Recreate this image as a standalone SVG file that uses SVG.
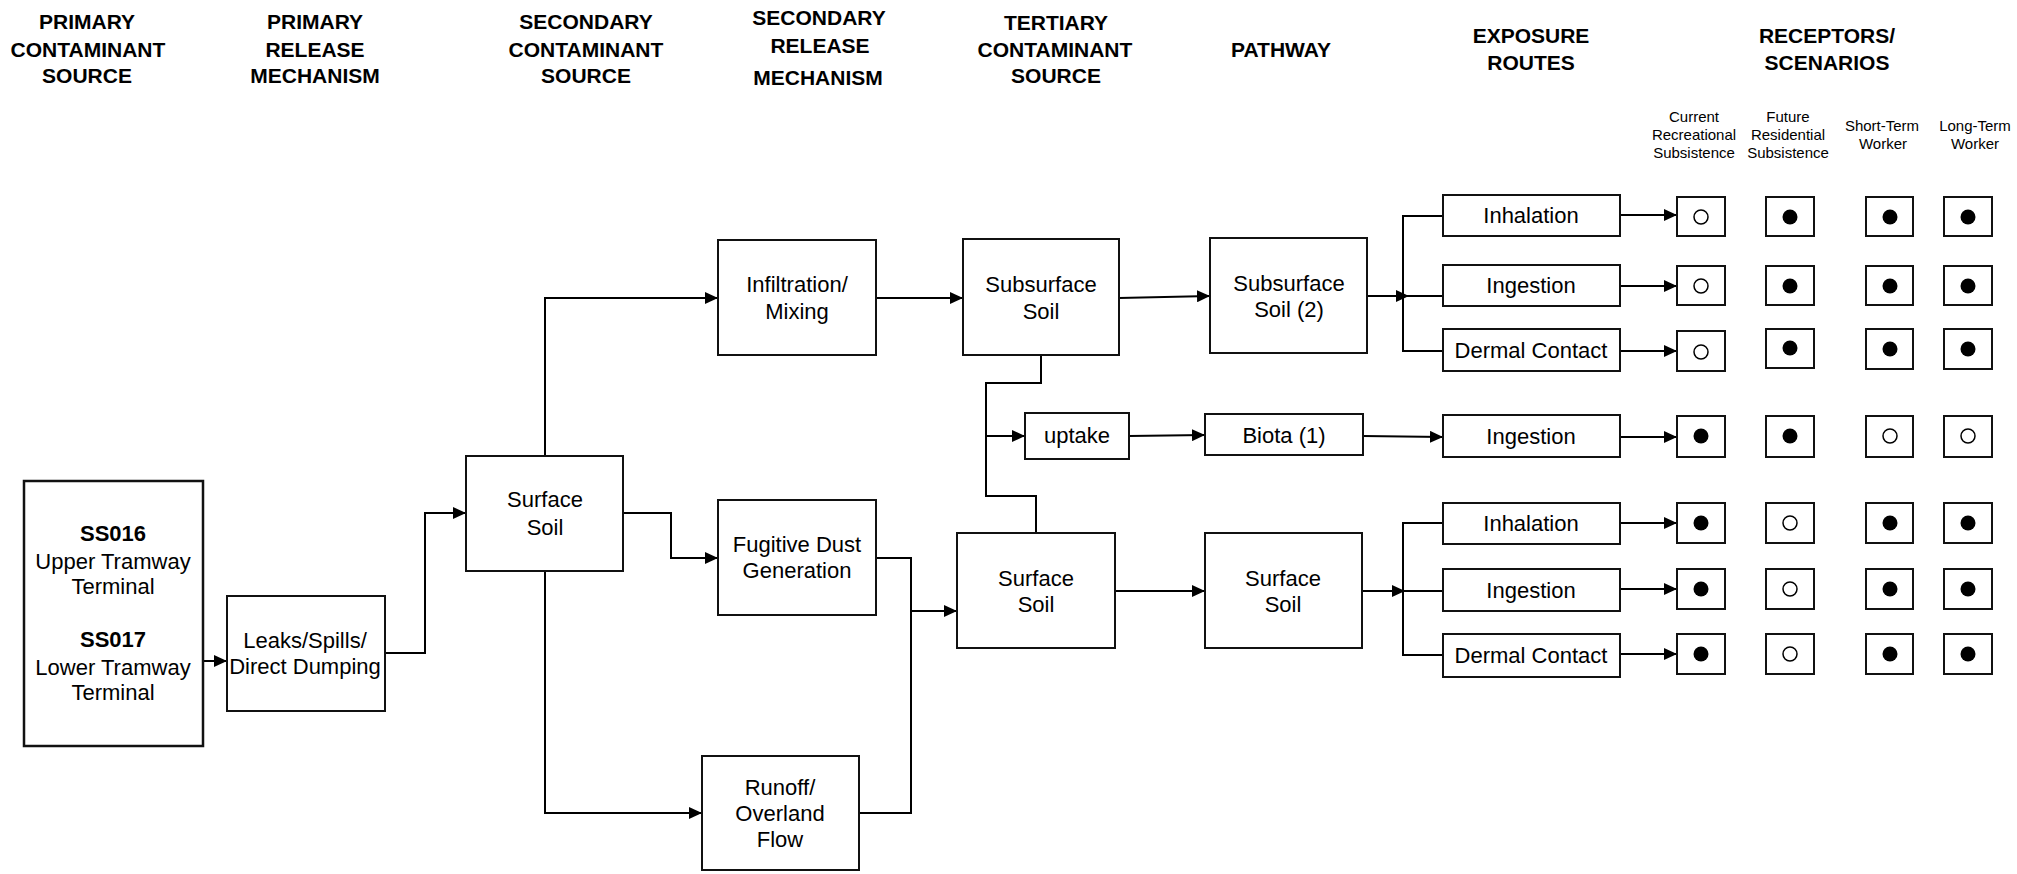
<svg xmlns="http://www.w3.org/2000/svg" width="2017" height="874" viewBox="0 0 2017 874">
<defs>
<style>
.hd{font-family:"Liberation Sans",Arial,sans-serif;font-size:21px;font-weight:bold;text-anchor:middle;fill:#000}
.sm{font-family:"Liberation Sans",Arial,sans-serif;font-size:15px;text-anchor:middle;fill:#000}
.nt{font-family:"Liberation Sans",Arial,sans-serif;font-size:22px;text-anchor:middle;fill:#000}
.b{font-weight:bold}
.box{fill:#fff;stroke:#111;stroke-width:2}
.rb{fill:#fff;stroke:#111;stroke-width:2}
.ln{fill:none;stroke:#000;stroke-width:2}
.ar{fill:none;stroke:#000;stroke-width:2;marker-end:url(#ah)}
.f{fill:#000}
.o{fill:#fff;stroke:#000;stroke-width:1.5}
</style>
<marker id="ah" markerUnits="userSpaceOnUse" markerWidth="14" markerHeight="12" refX="13" refY="6" orient="auto">
<path d="M0,0 L13,6 L0,12 z" fill="#000"/>
</marker>
</defs>
<rect width="2017" height="874" fill="#fff"/>

<g id="headers">
<text class="hd"><tspan x="87" y="29">PRIMARY</tspan><tspan x="88" y="57">CONTAMINANT</tspan><tspan x="87" y="83">SOURCE</tspan></text>
<text class="hd"><tspan x="315" y="29">PRIMARY</tspan><tspan x="315" y="57">RELEASE</tspan><tspan x="315" y="83">MECHANISM</tspan></text>
<text class="hd"><tspan x="586" y="29">SECONDARY</tspan><tspan x="586" y="57">CONTAMINANT</tspan><tspan x="586" y="83">SOURCE</tspan></text>
<text class="hd"><tspan x="819" y="25">SECONDARY</tspan><tspan x="820" y="53">RELEASE</tspan><tspan x="818" y="85">MECHANISM</tspan></text>
<text class="hd"><tspan x="1056" y="30">TERTIARY</tspan><tspan x="1055" y="57">CONTAMINANT</tspan><tspan x="1056" y="83">SOURCE</tspan></text>
<text class="hd" x="1281" y="57">PATHWAY</text>
<text class="hd"><tspan x="1531" y="43">EXPOSURE</tspan><tspan x="1531" y="70">ROUTES</tspan></text>
<text class="hd"><tspan x="1827" y="43">RECEPTORS/</tspan><tspan x="1827" y="70">SCENARIOS</tspan></text>
<text class="sm"><tspan x="1694" y="122">Current</tspan><tspan x="1694" y="140">Recreational</tspan><tspan x="1694" y="158">Subsistence</tspan></text>
<text class="sm"><tspan x="1788" y="122">Future</tspan><tspan x="1788" y="140">Residential</tspan><tspan x="1788" y="158">Subsistence</tspan></text>
<text class="sm"><tspan x="1882" y="131">Short-Term</tspan><tspan x="1883" y="149">Worker</tspan></text>
<text class="sm"><tspan x="1975" y="131">Long-Term</tspan><tspan x="1975" y="149">Worker</tspan></text>
</g>

<g id="connectors">
<path class="ar" d="M203,661 H227"/>
<path class="ar" d="M385,653 H425 V513 H466"/>
<path class="ar" d="M545,456 V298 H718"/>
<path class="ar" d="M623,513 H671 V558 H718"/>
<path class="ar" d="M545,571 V813 H702"/>
<path class="ln" d="M876,558 H911 V813 H859"/>
<path class="ar" d="M911,611 H957"/>
<path class="ar" d="M876,298 H963"/>
<path class="ar" d="M1119,298 L1210,296"/>
<path class="ln" d="M1041,355 V383 H986 V496 H1036 V533"/>
<path class="ar" d="M986,436 H1025"/>
<path class="ar" d="M1129,436 L1205,435"/>
<path class="ar" d="M1363,436 L1443,437"/>
<path class="ar" d="M1115,591 H1205"/>
<path class="ar" d="M1367,296 H1409"/>
<path class="ln" d="M1403,296 H1443"/>
<path class="ln" d="M1443,216 H1403 V351 H1443"/>
<path class="ar" d="M1362,591 H1405"/>
<path class="ln" d="M1403,591 H1443"/>
<path class="ln" d="M1443,523 H1403 V655 H1443"/>
<path class="ar" d="M1620,215 H1677"/>
<path class="ar" d="M1620,286 H1677"/>
<path class="ar" d="M1620,351 H1677"/>
<path class="ar" d="M1620,437 H1677"/>
<path class="ar" d="M1620,523 H1677"/>
<path class="ar" d="M1620,589 H1677"/>
<path class="ar" d="M1620,654 H1677"/>
</g>

<g id="n-source">
<rect class="box" x="24" y="481" width="179" height="265" style="stroke-width:2.5"/>
<text class="nt"><tspan class="b" x="113" y="541">SS016</tspan><tspan x="113" y="569">Upper Tramway</tspan><tspan x="113" y="594">Terminal</tspan><tspan class="b" x="113" y="647">SS017</tspan><tspan x="113" y="675">Lower Tramway</tspan><tspan x="113" y="700">Terminal</tspan></text>
</g>
<g id="n-leaks">
<rect class="box" x="227" y="596" width="158" height="115"/>
<text class="nt"><tspan x="305" y="648">Leaks/Spills/</tspan><tspan x="305" y="674">Direct Dumping</tspan></text>
</g>
<g id="n-surface1">
<rect class="box" x="466" y="456" width="157" height="115"/>
<text class="nt"><tspan x="545" y="507">Surface</tspan><tspan x="545" y="535">Soil</tspan></text>
</g>
<g id="n-infiltration">
<rect class="box" x="718" y="240" width="158" height="115"/>
<text class="nt"><tspan x="797" y="292">Infiltration/</tspan><tspan x="797" y="319">Mixing</tspan></text>
</g>
<g id="n-fugitive">
<rect class="box" x="718" y="500" width="158" height="115"/>
<text class="nt"><tspan x="797" y="552">Fugitive Dust</tspan><tspan x="797" y="578">Generation</tspan></text>
</g>
<g id="n-runoff">
<rect class="box" x="702" y="756" width="157" height="114"/>
<text class="nt"><tspan x="780" y="795">Runoff/</tspan><tspan x="780" y="821">Overland</tspan><tspan x="780" y="847">Flow</tspan></text>
</g>
<g id="n-subsurface">
<rect class="box" x="963" y="239" width="156" height="116"/>
<text class="nt"><tspan x="1041" y="292">Subsurface</tspan><tspan x="1041" y="319">Soil</tspan></text>
</g>
<g id="n-surface2">
<rect class="box" x="957" y="533" width="158" height="115"/>
<text class="nt"><tspan x="1036" y="586">Surface</tspan><tspan x="1036" y="612">Soil</tspan></text>
</g>
<g id="n-uptake">
<rect class="box" x="1025" y="413" width="104" height="46"/>
<text class="nt" x="1077" y="443">uptake</text>
</g>
<g id="n-subsurface2">
<rect class="box" x="1210" y="238" width="157" height="115"/>
<text class="nt"><tspan x="1289" y="291">Subsurface</tspan><tspan x="1289" y="317">Soil (2)</tspan></text>
</g>
<g id="n-biota">
<rect class="box" x="1205" y="414" width="158" height="41"/>
<text class="nt" x="1284" y="443">Biota (1)</text>
</g>
<g id="n-surface3">
<rect class="box" x="1205" y="533" width="157" height="115"/>
<text class="nt"><tspan x="1283" y="586">Surface</tspan><tspan x="1283" y="612">Soil</tspan></text>
</g>

<g id="n-exp1"><rect class="box" x="1443" y="195" width="177" height="41"/><text class="nt" x="1531" y="223">Inhalation</text></g>
<g id="n-exp2"><rect class="box" x="1443" y="265" width="177" height="41"/><text class="nt" x="1531" y="293">Ingestion</text></g>
<g id="n-exp3"><rect class="box" x="1443" y="329" width="177" height="42"/><text class="nt" x="1531" y="358">Dermal Contact</text></g>
<g id="n-exp4"><rect class="box" x="1443" y="415" width="177" height="42"/><text class="nt" x="1531" y="444">Ingestion</text></g>
<g id="n-exp5"><rect class="box" x="1443" y="503" width="177" height="41"/><text class="nt" x="1531" y="531">Inhalation</text></g>
<g id="n-exp6"><rect class="box" x="1443" y="569" width="177" height="42"/><text class="nt" x="1531" y="598">Ingestion</text></g>
<g id="n-exp7"><rect class="box" x="1443" y="634" width="177" height="43"/><text class="nt" x="1531" y="663">Dermal Contact</text></g>

<g id="receptors">
<g id="r1">
<rect class="rb" x="1677" y="197" width="48" height="39"/><circle class="o" cx="1701" cy="217" r="7"/>
<rect class="rb" x="1766" y="197" width="48" height="39"/><circle class="f" cx="1790" cy="217" r="7.5"/>
<rect class="rb" x="1866" y="197" width="47" height="39"/><circle class="f" cx="1890" cy="217" r="7.5"/>
<rect class="rb" x="1944" y="197" width="48" height="39"/><circle class="f" cx="1968" cy="217" r="7.5"/>
</g>
<g id="r2">
<rect class="rb" x="1677" y="266" width="48" height="39"/><circle class="o" cx="1701" cy="286" r="7"/>
<rect class="rb" x="1766" y="266" width="48" height="39"/><circle class="f" cx="1790" cy="286" r="7.5"/>
<rect class="rb" x="1866" y="266" width="47" height="39"/><circle class="f" cx="1890" cy="286" r="7.5"/>
<rect class="rb" x="1944" y="266" width="48" height="39"/><circle class="f" cx="1968" cy="286" r="7.5"/>
</g>
<g id="r3">
<rect class="rb" x="1677" y="331" width="48" height="40"/><circle class="o" cx="1701" cy="352" r="7"/>
<rect class="rb" x="1766" y="329" width="48" height="39"/><circle class="f" cx="1790" cy="348" r="7.5"/>
<rect class="rb" x="1866" y="329" width="47" height="40"/><circle class="f" cx="1890" cy="349" r="7.5"/>
<rect class="rb" x="1944" y="329" width="48" height="40"/><circle class="f" cx="1968" cy="349" r="7.5"/>
</g>
<g id="r4">
<rect class="rb" x="1677" y="416" width="48" height="41"/><circle class="f" cx="1701" cy="436" r="7.5"/>
<rect class="rb" x="1766" y="416" width="48" height="41"/><circle class="f" cx="1790" cy="436" r="7.5"/>
<rect class="rb" x="1866" y="416" width="47" height="41"/><circle class="o" cx="1890" cy="436" r="7"/>
<rect class="rb" x="1944" y="416" width="48" height="41"/><circle class="o" cx="1968" cy="436" r="7"/>
</g>
<g id="r5">
<rect class="rb" x="1677" y="503" width="48" height="40"/><circle class="f" cx="1701" cy="523" r="7.5"/>
<rect class="rb" x="1766" y="503" width="48" height="40"/><circle class="o" cx="1790" cy="523" r="7"/>
<rect class="rb" x="1866" y="503" width="47" height="40"/><circle class="f" cx="1890" cy="523" r="7.5"/>
<rect class="rb" x="1944" y="503" width="48" height="40"/><circle class="f" cx="1968" cy="523" r="7.5"/>
</g>
<g id="r6">
<rect class="rb" x="1677" y="569" width="48" height="40"/><circle class="f" cx="1701" cy="589" r="7.5"/>
<rect class="rb" x="1766" y="569" width="48" height="40"/><circle class="o" cx="1790" cy="589" r="7"/>
<rect class="rb" x="1866" y="569" width="47" height="40"/><circle class="f" cx="1890" cy="589" r="7.5"/>
<rect class="rb" x="1944" y="569" width="48" height="40"/><circle class="f" cx="1968" cy="589" r="7.5"/>
</g>
<g id="r7">
<rect class="rb" x="1677" y="634" width="48" height="40"/><circle class="f" cx="1701" cy="654" r="7.5"/>
<rect class="rb" x="1766" y="634" width="48" height="40"/><circle class="o" cx="1790" cy="654" r="7"/>
<rect class="rb" x="1866" y="634" width="47" height="40"/><circle class="f" cx="1890" cy="654" r="7.5"/>
<rect class="rb" x="1944" y="634" width="48" height="40"/><circle class="f" cx="1968" cy="654" r="7.5"/>
</g>
</g>
</svg>
